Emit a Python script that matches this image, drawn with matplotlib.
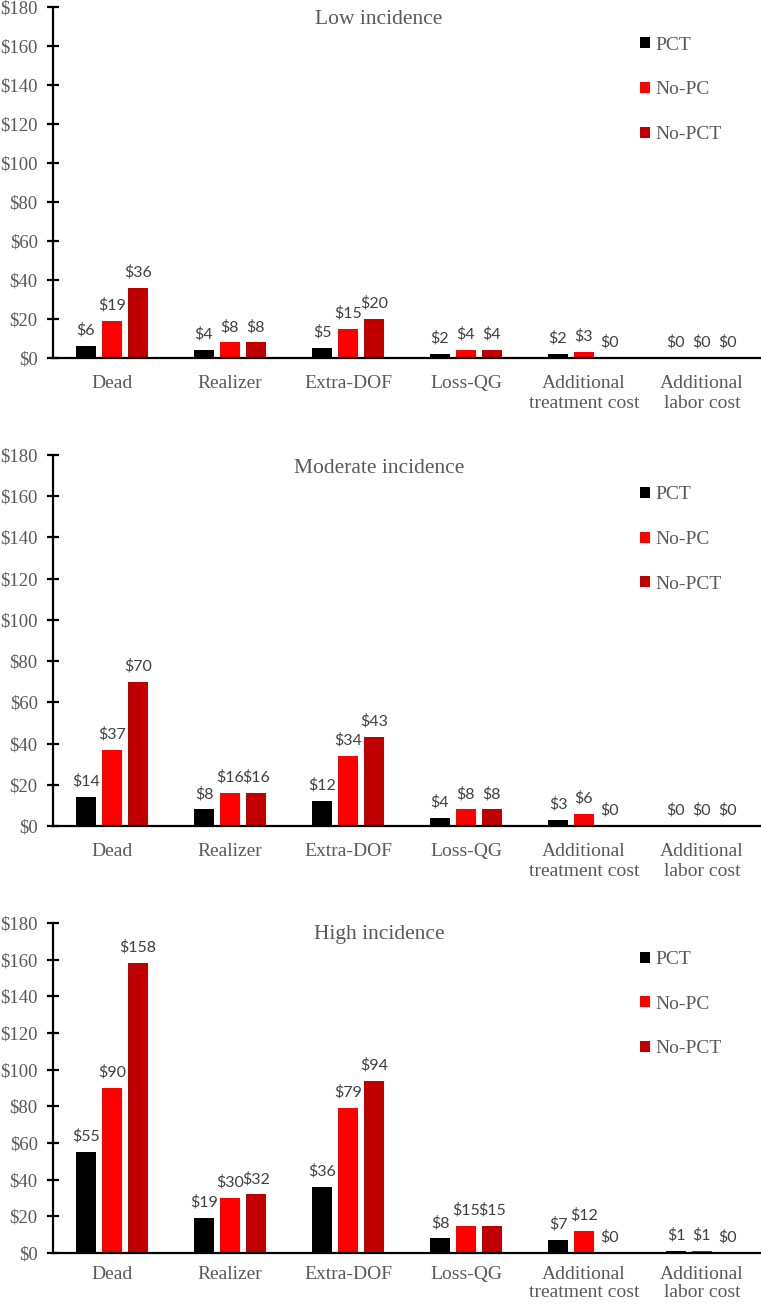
import numpy as np
import matplotlib
matplotlib.use("Agg")
import matplotlib.pyplot as plt
from matplotlib.patches import Patch

# ==== Data ====
CATEGORIES = ["Dead", "Realizer", "Extra-DOF", "Loss-QG",
              "Additional\ntreatment cost", "Additional\nlabor cost"]
SERIES = ["PCT", "No-PC", "No-PCT"]
COLORS = ["#000000", "#FF0000", "#C00000"]
PANEL_TITLES = ["Low incidence", "Moderate incidence", "High incidence"]

low_pct = [6, 4, 5, 2, 2, 0]
low_nopc = [19, 8, 15, 4, 3, 0]
low_nopct = [36, 8, 20, 4, 0, 0]

mod_pct = [14, 8, 12, 4, 3, 0]
mod_nopc = [37, 16, 34, 8, 6, 0]
mod_nopct = [70, 16, 43, 8, 0, 0]

high_pct = [55, 19, 36, 8, 7, 1]
high_nopc = [90, 30, 79, 15, 12, 1]
high_nopct = [158, 32, 94, 15, 0, 0]

PANELS = [
    (low_pct, low_nopc, low_nopct),
    (mod_pct, mod_nopc, mod_nopct),
    (high_pct, high_nopc, high_nopct),
]

# axes rectangles in figure fraction (left, bottom, width, height)
RECTS = [
    [0.0696, 0.7255, 0.9304, 0.2692],
    [0.0696, 0.3666, 0.9304, 0.2845],
    [0.0696, 0.0391, 0.9304, 0.2531],
]

GREY = "#595959"
LABEL_FONT = "Lato"

plt.rcParams["font.family"] = ["Liberation Serif", "DejaVu Serif"]


# ==== Function: draw_panel ====
def draw_panel(ax, values, title, xpad=12, linesp=1.25):
    x = np.arange(len(CATEGORIES))
    offsets = [-0.22, 0.0, 0.22]
    width = 0.17
    for vals, off, color in zip(values, offsets, COLORS):
        bars = ax.bar(x + off, vals, width, color=color, zorder=2)
        for b, v in zip(bars, vals):
            ax.annotate(f"${v:.0f}", (b.get_x() + b.get_width() / 2, v),
                        xytext=(0, 6), textcoords="offset points",
                        ha="center", va="bottom", fontsize=11.5,
                        family=LABEL_FONT, color="#404040")

    ax.set_xlim(-0.5, len(CATEGORIES) - 0.5)
    ax.set_ylim(0, 180)
    ax.tick_params(axis="y", direction="inout", length=8, width=1.6,
                   pad=7, labelsize=13.5, labelcolor=GREY)
    ax.tick_params(axis="x", length=0, pad=xpad, labelsize=14, labelcolor=GREY)
    ax.set_yticks(np.arange(0, 181, 20))
    ax.set_yticklabels([f"${t}" for t in range(0, 181, 20)])
    ax.set_xticks(x)
    ax.set_xticklabels(CATEGORIES, linespacing=linesp)

    for s in ["top", "right"]:
        ax.spines[s].set_visible(False)
    ax.spines["left"].set_linewidth(1.6)
    ax.spines["bottom"].set_linewidth(1.6)

    ax.text(0.4605, 173.5, title, transform=ax.get_yaxis_transform(),
            ha="center", va="center", fontsize=15.5, color=GREY)

    handles = [Patch(facecolor=c, label=s) for c, s in zip(COLORS, SERIES)]
    leg = ax.legend(handles=handles, loc="upper left",
                    bbox_to_anchor=(0.829, 0.915), frameon=False,
                    fontsize=14, handlelength=0.5, handleheight=0.5,
                    handletextpad=0.3, labelspacing=1.42,
                    borderaxespad=0, borderpad=0)
    for t in leg.get_texts():
        t.set_color(GREY)


fig = plt.figure(figsize=(7.61, 13.04), dpi=100)
for i, (rect, vals, title) in enumerate(zip(RECTS, PANELS, PANEL_TITLES)):
    ax = fig.add_axes(rect)
    if i == 2:
        # bottom panel: keep the two-line labels inside the canvas
        draw_panel(ax, vals, title, xpad=9, linesp=1.1)
    else:
        draw_panel(ax, vals, title)

fig.savefig("out.png", dpi=100)
